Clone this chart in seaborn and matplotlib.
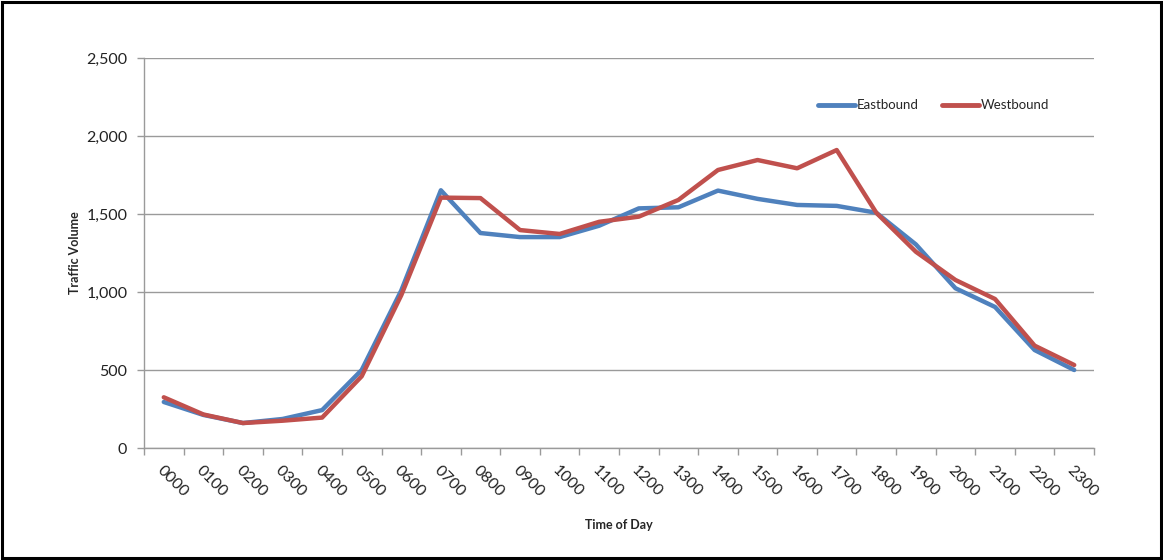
import numpy as np
import pandas as pd
import matplotlib
matplotlib.use("Agg")
import matplotlib.pyplot as plt
import seaborn as sns
from matplotlib.ticker import FuncFormatter, FixedLocator
from matplotlib.patches import Rectangle

times = ["0000", "0100", "0200", "0300", "0400", "0500", "0600", "0700",
         "0800", "0900", "1000", "1100", "1200", "1300", "1400", "1500",
         "1600", "1700", "1800", "1900", "2000", "2100", "2200", "2300"]
eastbound = [295, 212, 160, 186, 243, 500, 1010, 1652, 1378, 1352, 1352, 1425,
             1536, 1543, 1650, 1597, 1558, 1552, 1508, 1305, 1024, 904, 628, 500]
westbound = [325, 215, 160, 175, 195, 460, 980, 1605, 1602, 1397, 1372, 1450,
             1483, 1590, 1782, 1846, 1793, 1910, 1508, 1258, 1077, 955, 656, 532]
series_names = ["Eastbound", "Westbound"]
y_ticks = [0, 500, 1000, 1500, 2000, 2500]

pos = np.arange(len(times))
df = pd.DataFrame({
    "pos": np.concatenate([pos, pos]),
    "Volume": eastbound + westbound,
    "Direction": [series_names[0]] * len(times) + [series_names[1]] * len(times),
})

sns.set_theme(style="white")
plt.rcParams["font.family"] = ["Lato", "DejaVu Sans"]

fig = plt.figure(figsize=(11.63, 5.6), dpi=100)
ax = fig.add_axes([144 / 1163, 1 - 448 / 560, 950 / 1163, 390 / 560])

sns.lineplot(data=df, x="pos", y="Volume", hue="Direction",
             palette={"Eastbound": "#4F81BD", "Westbound": "#C0504D"},
             linewidth=3.2, ax=ax, legend=True, solid_capstyle="round")

ax.set_xlim(-0.5, len(times) - 0.5)
ax.set_ylim(0, 2500)
ax.set_yticks(y_ticks)
ax.yaxis.set_major_formatter(FuncFormatter(lambda v, p: f"{int(v):,}"))
ax.yaxis.grid(True, color="#9a9a9a", linewidth=1.0)
ax.set_axisbelow(True)

ax.set_xticks(pos)
ax.set_xticklabels(times, rotation=-45, ha="left", va="top", rotation_mode="anchor")
ax.xaxis.set_minor_locator(FixedLocator(np.arange(-0.5, len(times), 1.0)))
ax.tick_params(axis="x", which="major", length=0, pad=11, labelsize=11.5, labelcolor="#222222")
ax.tick_params(axis="x", which="minor", length=5, width=1, color="#9a9a9a", direction="out", bottom=True)
ax.tick_params(axis="y", which="major", length=5, width=1, color="#9a9a9a", direction="out", left=True,
               labelsize=11.5, pad=7, labelcolor="#222222")

for s in ["top", "right"]:
    ax.spines[s].set_visible(False)
for s in ["left", "bottom"]:
    ax.spines[s].set_color("#9a9a9a")
    ax.spines[s].set_linewidth(1.0)

ax.set_xlabel("Time of Day", fontsize=9, fontweight="bold", labelpad=14)
ax.set_ylabel("Traffic Volume", fontsize=9, fontweight="bold", labelpad=4)

leg = ax.legend(loc="upper right", bbox_to_anchor=(0.965, 0.925), ncol=2, frameon=False,
                fontsize=9.5, handlelength=2.8, handletextpad=0.1, columnspacing=1.8)
for h in leg.get_lines():
    h.set_linewidth(3.5)

fig.patches.append(Rectangle((0.002, 0.003), 0.996, 0.994, transform=fig.transFigure,
                             fill=False, edgecolor="black", linewidth=2.2))

fig.savefig("out.png", dpi=100, facecolor="white")
